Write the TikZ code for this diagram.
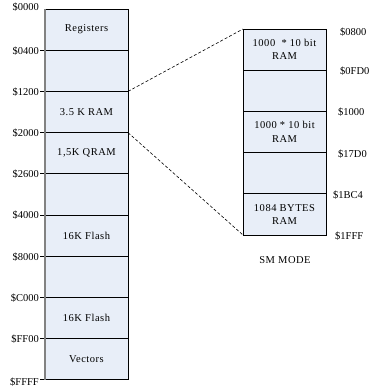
\documentclass[tikz,border=0pt]{standalone}
\usepackage{fontspec}
\setmainfont{Liberation Serif}
\definecolor{cellfill}{RGB}{232,238,248}
\definecolor{edgegray}{RGB}{130,130,130}
\begin{document}
\begin{tikzpicture}[x=1pt,y=-1pt,
  cell/.style={draw=black,fill=cellfill,line width=0.8pt,minimum width=83pt,minimum height=41.2pt,inner sep=0pt,outer sep=0pt,font=\fontsize{10.5}{13.3}\selectfont\addfontfeature{LetterSpace=5},align=center,anchor=north west},
  rcell/.style={cell,minimum width=83pt},
  addr/.style={font=\fontsize{10.5}{12}\selectfont,inner sep=0pt},
  dashline/.style={dashed,line width=0.6pt,dash pattern=on 3pt off 2pt}]
\useasboundingbox (0,0) rectangle (370,392);
% left column
\foreach \i/\t in {0/Registers,1/,2/3.5 K RAM,3/{1,5K QRAM},4/,5/16K Flash,6/,7/16K Flash,8/Vectors}{
  \node[cell] (L\i) at (45,{9+41.2*\i}) {\t};
}
\foreach \i in {1,...,8}{
  \draw[line width=0.8pt] (L\i.north west) -- ++(-5,0);
}
\draw[line width=0.8pt] (L8.south west) -- ++(-5,0);
\draw[edgegray,line width=1.6pt] (L0.north west) -- (L8.south west);
% left addresses
\node[addr,anchor=east] (A0) at (39,7) {\$0000};
\foreach \i/\t in {1/\$0400,2/\$1200,3/\$2000,4/\$2600,5/\$4000,6/\$8000,7/\$C000,8/\$FF00}{
  \node[addr,anchor=east] (A\i) at (39,{9.5+41.2*\i}) {\t};
}
\node[addr,anchor=east] (A9) at (39,382) {\$FFFF};
% right column
\foreach \i/\t in {0/{1000 \ * 10 bit\\RAM},1/,2/{1000 * 10 bit\\RAM},3/,4/{1084 BYTES\\RAM}}{
  \node[rcell] (R\i) at (243,{29+41.2*\i}) {\t};
}
\node[addr,anchor=west] (B0) at (340,32) {\$0800};
\node[addr,anchor=west] (B1) at (340,71) {\$0FD0};
\node[addr,anchor=west] (B2) at (338,112.5) {\$1000};
\node[addr,anchor=west] (B3) at (338,154) {\$17D0};
\node[addr,anchor=west] (B4) at (333,195) {\$1BC4};
\node[addr,anchor=west] (B5) at (335,236) {\$1FFF};
\node[addr,font=\fontsize{10.5}{12}\selectfont\addfontfeature{LetterSpace=5}] (SM) at (285,260) {SM MODE};
% dashed connectors
\draw[dashline] (L2.north east) -- (R0.north west);
\draw[dashline] (L2.south east) -- (R4.south west);
\end{tikzpicture}
\end{document}
